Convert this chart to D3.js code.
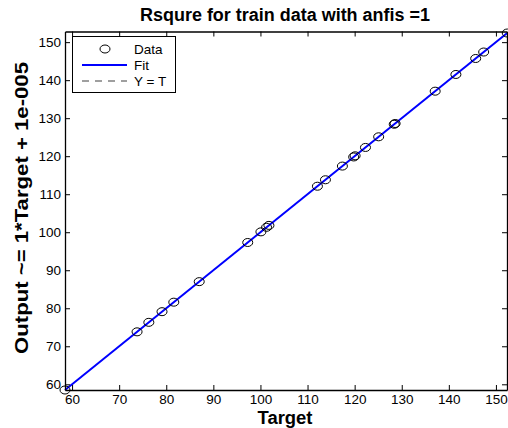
<!DOCTYPE html>
<html><head><meta charset="utf-8">
<script src="https://cdn.jsdelivr.net/npm/d3@7"></script>
<style>
html,body{margin:0;padding:0;background:#fff;}
text{font-family:"Liberation Sans",Arial,sans-serif;}
</style></head>
<body><svg id="c" width="508" height="428"></svg>
<script>
const targets = [58.5, 73.8, 76.3, 79.1, 81.6, 87.0, 97.3, 100.1, 101.3, 101.8, 112.1, 113.8, 117.4, 119.8, 120.1, 122.3, 125.1, 128.4, 128.6, 137.1, 141.5, 145.7, 147.4, 152.4];
const outputs = [58.5, 73.8, 76.3, 79.1, 81.6, 87.0, 97.3, 100.1, 101.3, 101.8, 112.1, 113.8, 117.4, 119.8, 120.1, 122.3, 125.1, 128.4, 128.6, 137.1, 141.5, 145.7, 147.4, 152.4];
const xTicks = [60, 70, 80, 90, 100, 110, 120, 130, 140, 150];
const yTicks = [60, 70, 80, 90, 100, 110, 120, 130, 140, 150];
const fitSlope = 1, fitIntercept = 1e-5;
const legendLabels = ["Data", "Fit", "Y = T"];
const titleText = "Rsqure for train data with anfis =1";
const xLabelText = "Target";
const yLabelText = "Output ~= 1*Target + 1e-005";

const L = 65, R = 507, T = 31.5, B = 390;
const svg = d3.select("#c");
const x = d3.scaleLinear().domain([58.5, 152.35]).range([L, R]);
const y = d3.scaleLinear().domain([58.5, 152.8]).range([B, T]);
const xmin = d3.min(targets), xmax = d3.max(targets);

// Y = T line (under)
svg.append("line")
  .attr("x1", x(xmin)).attr("y1", y(xmin)).attr("x2", x(xmax)).attr("y2", y(xmax))
  .attr("stroke", "#808080").attr("stroke-width", 1).attr("stroke-dasharray", "6,4");
// Fit line
svg.append("line")
  .attr("x1", x(xmin)).attr("y1", y(fitSlope * xmin + fitIntercept))
  .attr("x2", x(xmax)).attr("y2", y(fitSlope * xmax + fitIntercept))
  .attr("stroke", "#0000ff").attr("stroke-width", 2);

// Data
svg.append("g").selectAll("ellipse").data(targets).join("ellipse")
  .attr("cx", d => x(d)).attr("cy", (d, i) => y(outputs[i]))
  .attr("rx", 5).attr("ry", 4)
  .attr("fill", "none").attr("stroke", "#000").attr("stroke-width", 1);

// Axes
const fs = "13.5px";
const gx = svg.append("g").attr("transform", `translate(0,${B})`)
  .call(d3.axisBottom(x).tickValues(xTicks).tickSizeInner(-5).tickSizeOuter(0).tickPadding(4));
const gy = svg.append("g").attr("transform", `translate(${L},0)`)
  .call(d3.axisLeft(y).tickValues(yTicks).tickSizeInner(-5).tickSizeOuter(0).tickPadding(4));
const gt = svg.append("g").attr("transform", `translate(0,${T})`)
  .call(d3.axisTop(x).tickValues(xTicks).tickSizeInner(-5).tickSizeOuter(0).tickFormat(""));
const gr = svg.append("g").attr("transform", `translate(${R},0)`)
  .call(d3.axisRight(y).tickValues(yTicks).tickSizeInner(-5).tickSizeOuter(0).tickFormat(""));
[gx, gy, gt, gr].forEach(g => {
  g.select(".domain").attr("stroke", "#000").attr("stroke-width", 1.3);
  g.selectAll(".tick line").attr("stroke", "#000");
  g.selectAll("text").attr("font-size", fs).attr("fill", "#000")
    .style("font-family", "'Liberation Sans',Arial,sans-serif");
});

// Title and labels
svg.append("text").attr("x", 285).attr("y", 21).attr("text-anchor", "middle")
  .attr("font-size", "17.5px").attr("font-weight", "bold")
  .attr("textLength", 290).attr("lengthAdjust", "spacingAndGlyphs").text(titleText);
svg.append("text").attr("x", 285).attr("y", 424).attr("text-anchor", "middle")
  .attr("font-size", "17.5px").attr("font-weight", "bold")
  .attr("textLength", 55).attr("lengthAdjust", "spacingAndGlyphs").text(xLabelText);
svg.append("text").attr("transform", "translate(28,208) rotate(-90)").attr("text-anchor", "middle")
  .attr("font-size", "18.5px").attr("font-weight", "bold")
  .attr("textLength", 292).attr("lengthAdjust", "spacingAndGlyphs").text(yLabelText);

// Legend
const lg = svg.append("g");
lg.append("rect").attr("x", 72.5).attr("y", 36.5).attr("width", 103).attr("height", 56)
  .attr("fill", "#fff").attr("stroke", "#000").attr("stroke-width", 1);
const rows = [49, 65, 81];
lg.append("ellipse").attr("cx", 105).attr("cy", rows[0]).attr("rx", 5).attr("ry", 4)
  .attr("fill", "none").attr("stroke", "#000");
lg.append("line").attr("x1", 82).attr("x2", 127).attr("y1", rows[1]).attr("y2", rows[1])
  .attr("stroke", "#0000ff").attr("stroke-width", 2);
lg.append("line").attr("x1", 82).attr("x2", 127).attr("y1", rows[2]).attr("y2", rows[2])
  .attr("stroke", "#808080").attr("stroke-width", 1.5).attr("stroke-dasharray", "7,6");
legendLabels.forEach((t, i) => {
  lg.append("text").attr("x", 134).attr("y", rows[i] + 4.5).attr("font-size", "13.5px").text(t);
});
</script></body></html>
